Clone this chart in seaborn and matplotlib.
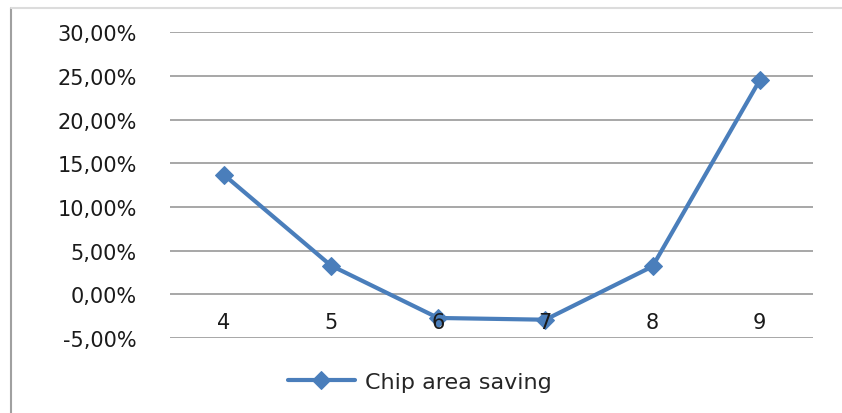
import seaborn as sns
import matplotlib.pyplot as plt
import pandas as pd
from matplotlib.ticker import FuncFormatter, MultipleLocator
from matplotlib.lines import Line2D

# chip area saving (%) per category
categories = ['4', '5', '6', '7', '8', '9']
saving = [13.7, 3.3, -2.7, -2.9, 3.2, 24.5]
series_name = 'Chip area saving'

df = pd.DataFrame({'pos': range(len(categories)), 'saving': saving})

sns.set_style('white')
plt.rcParams['font.family'] = ['DejaVu Sans']

fig = plt.figure(figsize=(8.42, 4.14), dpi=100)
ax = fig.add_axes([0.202, 0.181, 0.764, 0.739])

blue = '#4A7EBB'
sns.lineplot(data=df, x='pos', y='saving', ax=ax, color=blue, linewidth=3,
             marker='D', markersize=9, markeredgecolor=blue, label=series_name)

ax.set_xlim(-0.5, len(categories) - 0.5)
ax.set_ylim(-5, 30)
ax.yaxis.set_major_locator(MultipleLocator(5))
ax.yaxis.set_major_formatter(FuncFormatter(lambda v, p: f'{v:.2f}%'.replace('.', ',')))
ax.grid(axis='y', color='#a0a0a0', linewidth=1.3)
ax.set_axisbelow(True)
for s in ax.spines.values():
    s.set_visible(False)
ax.tick_params(axis='y', length=0, pad=24, labelsize=15, labelcolor='#1a1a1a')

# category labels sit just under the zero line, drawn over the line
ax.spines['bottom'].set_position(('data', 0))
ax.set_xticks(range(len(categories)))
ax.set_xticklabels(categories)
ax.tick_params(axis='x', length=0, pad=13, labelsize=15, labelcolor='#1a1a1a')
ax.xaxis.set_zorder(3)
ax.set_xlabel('')
ax.set_ylabel('')

ax.get_legend().remove()
h, l = ax.get_legend_handles_labels()
fig.legend(h, l, loc='center left', bbox_to_anchor=(268 / 842, 1 - 383 / 414),
           frameon=False, fontsize=16, handlelength=3.0, handletextpad=0.45)

# outer chart frame
fig.add_artist(Line2D([11 / 842, 11 / 842], [0, 1 - 9 / 414], transform=fig.transFigure,
                      color='#a0a0a0', linewidth=1.5))
fig.add_artist(Line2D([11 / 842, 1], [1 - 9 / 414, 1 - 9 / 414], transform=fig.transFigure,
                      color='#dcdcdc', linewidth=1.5))

fig.savefig('out.png', dpi=100)
